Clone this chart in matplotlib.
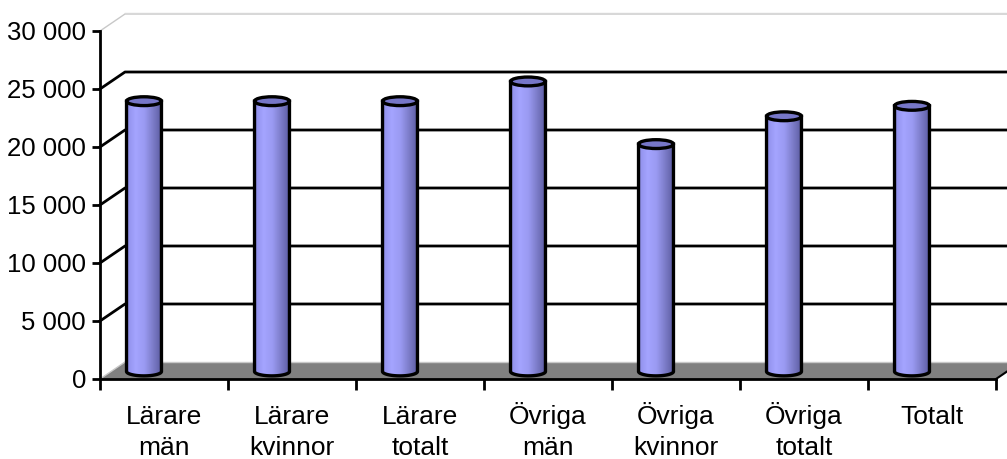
import numpy as np
import matplotlib
matplotlib.use("Agg")
import matplotlib.pyplot as plt
from matplotlib.path import Path
from matplotlib.patches import PathPatch, Ellipse, Polygon
from matplotlib.colors import LinearSegmentedColormap

categories = ["Lärare\nmän", "Lärare\nkvinnor", "Lärare\ntotalt", "Övriga\nmän",
              "Övriga\nkvinnor", "Övriga\ntotalt", "Totalt"]
values = [23300, 23300, 23300, 25000, 19600, 22000, 22900]
yticks = [0, 5000, 10000, 15000, 20000, 25000, 30000]
ytick_labels = ["0", "5 000", "10 000", "15 000", "20 000", "25 000", "30 000"]

plt.rcParams['font.family'] = ['Liberation Sans', 'DejaVu Sans']

fig = plt.figure(figsize=(10.07, 4.59), dpi=100)
ax = fig.add_axes([100 / 1007, 80 / 459, 907 / 1007, 348 / 459])
ax.set_xlim(0, 907 / 128)
ax.set_ylim(0, 30000)

# pseudo-3D depth offset (category units, value units)
dx = 25 / 128
dy = 17 / 58 * 5000
n = len(categories)

# floor
floor = Polygon([(0, 0), (n, 0), (n + dx, dy), (dx, dy)], closed=True,
                facecolor='#808080', edgecolor='none', clip_on=False, zorder=1)
ax.add_patch(floor)
ax.plot([dx, n + 1], [dy, dy], color='#c8c8c8', lw=1, clip_on=False, zorder=1.5)
ax.plot([0, dx], [0, dy], color='#c8c8c8', lw=1, clip_on=False, zorder=1.5)
ax.plot([n, n + dx], [0, dy], color='black', lw=1.5, clip_on=False, zorder=1.5)

# back wall gridlines
for v in yticks[1:-1]:
    ax.plot([0, dx, n + 1], [v, v + dy, v + dy], color='black', lw=2,
            clip_on=False, zorder=1)
ax.plot([0, dx, n + 1], [30000, 30000 + dy, 30000 + dy], color='#c8c8c8',
        lw=1, clip_on=False, zorder=1)
ax.plot([dx, n + 1], [30000 + dy + 80, 30000 + dy + 80], color='#d8d8d8',
        lw=1, clip_on=False, zorder=1)

# cylinders
cmap = LinearSegmentedColormap.from_list(
    'cyl', ['#9090ea', '#a4a4ff', '#9a9af2', '#7c7cc8', '#5a5aa0'])
grad = np.linspace(0, 1, 256).reshape(1, -1)
w = 0.273
eh = 380  # half height of the ellipse in value units
base = 650
t = np.linspace(np.pi, 2 * np.pi, 40)
for i, v in enumerate(values):
    xc = i + 0.5 - 20 / 128
    top = base + v
    xs = xc + w / 2 * np.cos(t)
    ys = base + eh * np.sin(t)
    verts = [(xc - w / 2, top)] + list(zip(xs, ys)) + [(xc + w / 2, top), (xc - w / 2, top)]
    body = PathPatch(Path(verts, closed=True), facecolor='none', edgecolor='black',
                     lw=2.4, zorder=3)
    ax.add_patch(body)
    im = ax.imshow(grad, cmap=cmap, aspect='auto', zorder=2.5,
                   extent=[xc - w / 2, xc + w / 2, base - eh, top])
    im.set_clip_path(body)
    ax.add_patch(Ellipse((xc, top), w, 2 * eh, facecolor='#7676c8',
                         edgecolor='black', lw=2.4, zorder=4))

ax.set_xlim(0, 907 / 128)
ax.set_ylim(0, 30000)

# axes
for s in ['top', 'right']:
    ax.spines[s].set_visible(False)
ax.spines['left'].set_linewidth(2)
ax.spines['bottom'].set_linewidth(2)
ax.spines['bottom'].set_bounds(0, n)
ax.spines['left'].set_zorder(5)
ax.spines['bottom'].set_zorder(5)

ax.set_yticks(yticks)
ax.set_yticklabels(ytick_labels, fontsize=18.5)
ax.tick_params(axis='y', direction='out', length=6, width=2, pad=4)

ax.set_xticks(range(n + 1))
ax.set_xticklabels([])
ax.tick_params(axis='x', which='major', direction='out', length=8, width=2)

# category labels, each line on its own baseline
trans = ax.get_xaxis_transform()
for i, lab in enumerate(categories):
    for k, line in enumerate(lab.split("\n")):
        ax.text(i + 0.5, (-45 - 31 * k) / 348, line, transform=trans,
                ha='center', va='baseline', fontsize=19)

ax.set_facecolor('none')

fig.savefig("out.png", dpi=100)
